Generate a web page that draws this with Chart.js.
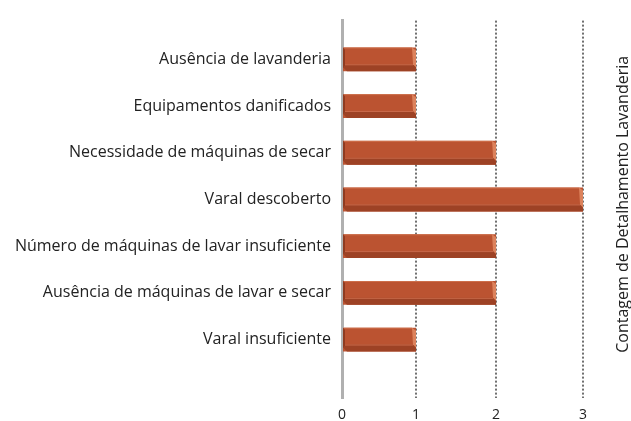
<!DOCTYPE html>
<html>
<head>
<meta charset="utf-8">
<script src="https://cdn.jsdelivr.net/npm/chart.js@4.4.0/dist/chart.umd.min.js"></script>
<style>
html,body{margin:0;padding:0;background:#fff;}
#wrap{width:631px;height:421px;position:relative;}
</style>
</head>
<body>
<div id="wrap"><canvas id="c"></canvas></div>
<script>
const categories = [
  "Ausência de lavanderia",
  "Equipamentos danificados",
  "Necessidade de máquinas de secar",
  "Varal descoberto",
  "Número de máquinas de lavar insuficiente",
  "Ausência de máquinas de lavar e secar",
  "Varal insuficiente"
];
const counts = [1, 1, 2, 3, 2, 2, 1];
const xTicks = [0, 1, 2, 3];
const axisTitle = "Contagem de Detalhamento Lavanderia";

const FONT = "'Open Sans', sans-serif";

// Linear scale with a slight perspective (3D chart look)
const PERSP = 0.886;
class PerspScale extends Chart.LinearScale {
  getPixelForValue(v) {
    const t = (v - this.min) / (this.max - this.min);
    const f = PERSP * t / (1 + (PERSP - 1) * t);
    return this.getPixelForDecimal(f);
  }
  getValueForPixel(p) {
    const f = this.getDecimalForPixel(p);
    const t = f / (PERSP - (PERSP - 1) * f);
    return this.min + t * (this.max - this.min);
  }
}
PerspScale.id = 'persp';
PerspScale.defaults = Chart.LinearScale.defaults;
Chart.register(PerspScale);

const bar3d = {
  id: 'bar3d',
  afterDatasetsDraw(chart) {
    const ctx = chart.ctx;
    chart.getDatasetMeta(0).data.forEach(el => {
      const p = el.getProps(['x', 'y', 'base', 'height'], true);
      if (p.x == null || isNaN(p.y)) return;
      const top = p.y - p.height / 2, bot = p.y + p.height / 2;
      const L = p.base, R = p.x;
      ctx.save();
      ctx.fillStyle = '#9d4225';
      ctx.beginPath();
      ctx.moveTo(L, bot - 7);
      ctx.lineTo(R - 3, bot - 7);
      ctx.lineTo(R, bot - 4);
      ctx.lineTo(R, bot);
      ctx.lineTo(L + 4, bot);
      ctx.lineTo(L, bot - 4);
      ctx.closePath();
      ctx.fill();
      ctx.fillStyle = '#c9694a';
      ctx.fillRect(L, bot - 7, R - L - 3, 1);
      ctx.fillStyle = '#dc825c';
      ctx.beginPath();
      ctx.moveTo(R - 4, top);
      ctx.lineTo(R, top + 3);
      ctx.lineTo(R, bot - 4);
      ctx.lineTo(R - 3, bot - 7);
      ctx.closePath();
      ctx.fill();
      ctx.fillStyle = '#cd6e4a';
      ctx.fillRect(L + 1, top, R - L - 5, 1);
      ctx.fillStyle = '#8f3b20';
      ctx.beginPath();
      ctx.moveTo(L, top);
      ctx.lineTo(L + 2, top + 2);
      ctx.lineTo(L + 2, bot - 6);
      ctx.lineTo(L, bot - 4);
      ctx.closePath();
      ctx.fill();
      ctx.restore();
    });
  }
};

const rightTitle = {
  id: 'rightTitle',
  afterDraw(chart) {
    const ctx = chart.ctx;
    const a = chart.chartArea;
    ctx.save();
    ctx.translate(chart.width, (a.top + a.bottom) / 2 - 5);
    ctx.rotate(-Math.PI / 2);
    ctx.font = "16px " + FONT;
    ctx.fillStyle = '#222';
    ctx.textAlign = 'center';
    ctx.textBaseline = 'bottom';
    ctx.fillText(axisTitle, 0, 0);
    ctx.restore();
  }
};

new Chart(document.getElementById('c'), {
  type: 'bar',
  data: {
    datasets: [{
      data: counts.map((v, i) => ({ x: v, y: i })),
      backgroundColor: '#bb5331',
      borderWidth: 0,
      barPercentage: 0.6,
      categoryPercentage: 0.85
    }]
  },
  options: {
    indexAxis: 'y',
    responsive: true,
    maintainAspectRatio: false,
    animation: false,
    layout: { padding: { top: 17, right: 48, left: 0, bottom: 0 } },
    plugins: { legend: { display: false }, tooltip: { enabled: false } },
    scales: {
      x: {
        type: 'persp',
        min: 0,
        max: 3,
        afterBuildTicks: s => { s.ticks = xTicks.map(v => ({ value: v })); },
        afterFit: s => { s.height = 23; },
        ticks: { color: '#222', font: { family: FONT, size: 14 }, padding: 9 },
        grid: {
          drawTicks: false,
          lineWidth: 2,
          color: c => (c.tick && c.tick.value === 0) ? 'rgba(0,0,0,0)' : '#707070'
        },
        border: { display: false, dash: [2, 2] }
      },
      y: {
        type: 'linear',
        reverse: true,
        offset: false,
        min: -0.83,
        max: 7.25,
        afterBuildTicks: s => { s.ticks = categories.map((_, i) => ({ value: i })); },
        afterFit: s => { s.width = 342; },
        ticks: {
          color: '#222',
          font: { family: FONT, size: 16 },
          padding: 11,
          callback: v => categories[v]
        },
        grid: { display: false, offset: false, drawTicks: false },
        border: { display: true, color: '#b0b0b0', width: 3 }
      }
    }
  },
  plugins: [bar3d, rightTitle]
});
</script>
</body>
</html>
